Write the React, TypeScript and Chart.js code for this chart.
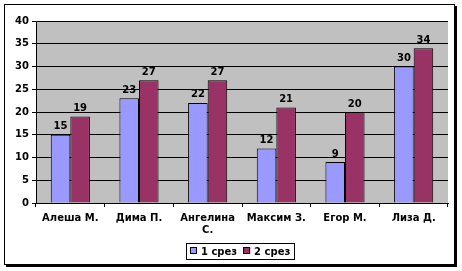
import React, { useEffect, useRef } from "react";
import { Chart, registerables } from "chart.js";

Chart.register(...registerables);

const categories: (string | string[])[] = ["Алеша М.", "Дима П.", ["Ангелина", "С."], "Максим З.", "Егор М.", "Лиза Д."];
const series1: number[] = [15, 23, 22, 12, 9, 30];
const series2: number[] = [19, 27, 27, 21, 20, 34];
const seriesNames: string[] = ["1 срез", "2 срез"];
const colors: string[] = ["#9999FF", "#993366"];
const yTicks = { min: 0, max: 40, step: 5 };

const FONT = "DejaVu Sans";

export default function App() {
  const ref = useRef<HTMLCanvasElement | null>(null);
  useEffect(() => {
    document.body.style.margin = "0";
    const canvas = ref.current!;
    const frame = {
      id: "frame",
      beforeDraw(chart: any) {
        const ctx = chart.ctx;
        ctx.save();
        ctx.fillStyle = "#fff";
        ctx.fillRect(0, 0, chart.width, chart.height);
        ctx.fillStyle = "#000";
        ctx.fillRect(6, 6, 451, 261);
        ctx.fillStyle = "#fff";
        ctx.fillRect(4, 4, 451, 261);
        ctx.strokeStyle = "#000";
        ctx.lineWidth = 1;
        ctx.strokeRect(4.5, 4.5, 450, 260);
        const a = chart.chartArea;
        ctx.fillStyle = "#C0C0C0";
        ctx.fillRect(a.left, a.top, a.right - a.left, a.bottom - a.top);
        ctx.restore();
      },
    };
    const labels = {
      id: "labels",
      afterDatasetsDraw(chart: any) {
        const ctx = chart.ctx;
        ctx.save();
        ctx.font = `bold 10px "${FONT}"`;
        ctx.fillStyle = "#000";
        ctx.textAlign = "center";
        ctx.textBaseline = "bottom";
        chart.data.datasets.forEach((ds: any, i: number) => {
          const meta = chart.getDatasetMeta(i);
          meta.data.forEach((el: any, j: number) => {
            ctx.fillText(String(ds.data[j]), el.x, el.y - 3);
          });
        });
        // legend
        const items = seriesNames;
        ctx.font = `bold 10px "${FONT}"`;
        ctx.textAlign = "left";
        ctx.textBaseline = "middle";
        const box = 7;
        const gap = 4;
        const itemGap = 6;
        const widths = items.map((t) => ctx.measureText(t).width);
        const total = widths.reduce((s, w) => s + box + gap + w, 0) + itemGap * (items.length - 1) + 8;
        const cy = 251;
        const left = Math.round(240 - total / 2);
        ctx.strokeStyle = "#000";
        ctx.lineWidth = 1;
        ctx.strokeRect(left + 0.5, 243.5, Math.round(total), 16);
        let x = left + 4;
        items.forEach((t, i) => {
          ctx.fillStyle = colors[i];
          ctx.fillRect(x, cy - 4, box, box);
          ctx.strokeRect(x + 0.5, cy - 3.5, box - 1, box - 1);
          ctx.fillStyle = "#000";
          ctx.fillText(t, x + box + gap, cy + 1);
          x += box + gap + widths[i] + itemGap;
        });
        ctx.restore();
      },
    };
    const chart = new Chart(canvas, {
      type: "bar",
      data: {
        labels: categories,
        datasets: [
          { label: seriesNames[0], data: series1, backgroundColor: colors[0], borderColor: "#000", borderWidth: 1 },
          { label: seriesNames[1], data: series2, backgroundColor: colors[1], borderColor: "#000", borderWidth: 1 },
        ],
      },
      options: {
        animation: false,
        responsive: false,
        maintainAspectRatio: false,
        layout: { padding: { left: 5, top: 21, right: 14, bottom: 0 } },
        datasets: { bar: { barPercentage: 1, categoryPercentage: 0.57 } },
        plugins: { legend: { display: false }, tooltip: { enabled: false } },
        scales: {
          x: {
            afterFit(s: any) { s.height = 68; },
            grid: { drawOnChartArea: false, color: "#000", tickLength: 4, offset: true },
            border: { color: "#000" },
            ticks: { color: "#000", font: { family: FONT, weight: "bold", size: 10 }, padding: 5, maxRotation: 0, autoSkip: false },
          },
          y: {
            min: yTicks.min,
            max: yTicks.max,
            afterFit(s: any) { s.width = 31; },
            grid: { color: "#000", tickLength: 4 },
            border: { color: "#000" },
            ticks: { stepSize: yTicks.step, color: "#000", font: { family: FONT, weight: "bold", size: 10 }, padding: 3 },
          },
        },
      },
      plugins: [frame, labels],
    });
    return () => chart.destroy();
  }, []);
  return <canvas ref={ref} width={462} height={271} style={{ display: "block" }} />;
}
